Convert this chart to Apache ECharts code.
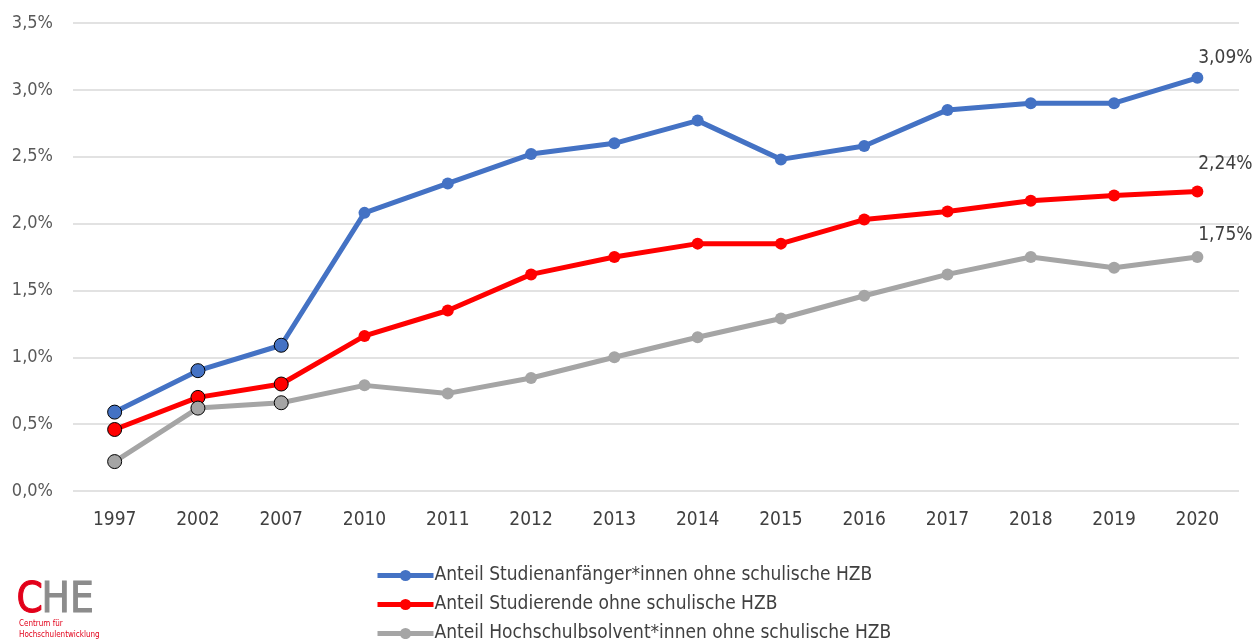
<!DOCTYPE html>
<html lang="de">
<head>
    <meta charset="UTF-8">
    <title>Anteil ohne schulische HZB</title>
    <script src="https://cdn.jsdelivr.net/npm/echarts@6/dist/echarts.min.js"></script>
    <style>
        html, body { margin: 0; padding: 0; background: #ffffff; }
        #chart { width: 1258px; height: 639px; }
    </style>
</head>
<body>
    <div id="chart"></div>
    <script>
        // Daten
        const years = ['1997', '2002', '2007', '2010', '2011', '2012', '2013', '2014', '2015', '2016', '2017', '2018', '2019', '2020'];
        const anfaenger = [0.59, 0.90, 1.09, 2.08, 2.30, 2.52, 2.60, 2.77, 2.48, 2.58, 2.85, 2.90, 2.90, 3.09];
        const studierende = [0.46, 0.70, 0.80, 1.16, 1.35, 1.62, 1.75, 1.85, 1.85, 2.03, 2.09, 2.17, 2.21, 2.24];
        const absolventen = [0.22, 0.62, 0.66, 0.79, 0.73, 0.845, 1.00, 1.15, 1.29, 1.46, 1.62, 1.75, 1.67, 1.75];
        const yTicks = [0, 0.5, 1.0, 1.5, 2.0, 2.5, 3.0, 3.5];

        const fontFam = '"Liberation Sans Narrow", "DejaVu Sans Condensed", "Roboto", sans-serif';

        function toPoints(values, labelOffset) {
            return values.map(function (v, i) {
                const item = { value: v };
                // die ersten drei Punkte haben einen schwarzen Rand
                if (i < 3) {
                    item.itemStyle = { borderColor: '#000000', borderWidth: 1 };
                    item.symbolSize = 14;
                }
                if (i === values.length - 1) {
                    item.label = {
                        show: true,
                        position: 'top',
                        offset: labelOffset,
                        formatter: function (p) { return p.value.toFixed(2).replace('.', ',') + '%'; },
                        fontSize: 19,
                        fontFamily: fontFam,
                        color: '#404040'
                    };
                }
                return item;
            });
        }

        function makeSeries(name, color, values, labelOffset) {
            return {
                name: name,
                type: 'line',
                data: toPoints(values, labelOffset),
                symbol: 'circle',
                symbolSize: 12,
                lineStyle: { color: color, width: 5 },
                itemStyle: { color: color },
                emphasis: { disabled: true },
                animation: false
            };
        }

        const chart = echarts.init(document.getElementById('chart'));
        chart.setOption({
            grid: { left: 73, right: 19, top: 23, bottom: 148 },
            legend: {
                orient: 'vertical',
                left: 370,
                top: 561,
                height: 120,
                itemGap: 10,
                itemWidth: 56,
                itemHeight: 14,
                lineStyle: { width: 5 },
                textStyle: { fontSize: 19, fontFamily: fontFam, color: '#404040', padding: [0, 0, 0, -4] }
            },
            xAxis: {
                type: 'category',
                data: years,
                boundaryGap: true,
                axisLine: { show: false },
                axisTick: { show: false },
                axisLabel: { fontSize: 19, fontFamily: fontFam, color: '#404040', margin: 20 }
            },
            yAxis: {
                type: 'value',
                min: yTicks[0],
                max: yTicks[yTicks.length - 1],
                interval: 0.5,
                axisLabel: {
                    fontSize: 18,
                    fontFamily: fontFam,
                    color: '#595959',
                    margin: 20,
                    formatter: function (v) { return v.toFixed(1).replace('.', ',') + '%'; }
                },
                splitLine: { lineStyle: { color: '#d9d9d9', width: 1.5 } }
            },
            graphic: [
                { type: 'text', left: 16, top: 580, style: { text: 'C', fontSize: 42, fontFamily: fontFam, fill: '#e2001a', stroke: '#e2001a', lineWidth: 1 } },
                { type: 'text', left: 41, top: 580, style: { text: 'HE', fontSize: 42, fontFamily: fontFam, fill: '#8c8c8c', stroke: '#8c8c8c', lineWidth: 1 } },
                { type: 'text', left: 19, top: 620, style: { text: 'Centrum für', fontSize: 8, fontFamily: fontFam, fill: '#e2001a' } },
                { type: 'text', left: 19, top: 631, style: { text: 'Hochschulentwicklung', fontSize: 8, fontFamily: fontFam, fill: '#e2001a' } }
            ],
            series: [
                makeSeries('Anteil Studienanfänger*innen ohne schulische HZB', '#4472c4', anfaenger, [28, 1]),
                makeSeries('Anteil Studierende ohne schulische HZB', '#ff0000', studierende, [28, -7]),
                makeSeries('Anteil Hochschulbsolvent*innen ohne schulische HZB', '#a5a5a5', absolventen, [28, -1])
            ]
        });
    </script>
</body>
</html>
